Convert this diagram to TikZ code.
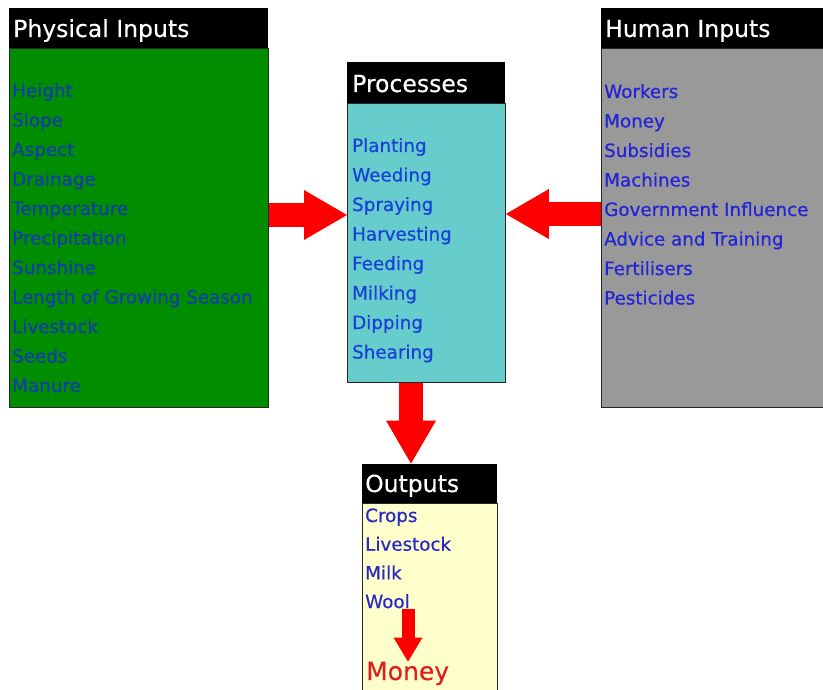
\documentclass[tikz,border=0pt]{standalone}
\usepackage{fontspec}
\setmainfont{DejaVu Sans}
\newfontfamily\itemfont{DejaVu Sans}[FakeBold=0.6]
\newfontfamily\headfont{DejaVu Sans}[FakeBold=0.3]
\usetikzlibrary{arrows.meta}
\definecolor{pgreen}{RGB}{0,142,0}
\definecolor{pcyan}{RGB}{102,204,204}
\definecolor{pgray}{RGB}{153,153,153}
\definecolor{pyellow}{RGB}{255,255,204}
\definecolor{tgreen}{RGB}{20,60,170}
\definecolor{tcyan}{RGB}{25,65,215}
\definecolor{tgray}{RGB}{35,35,215}
\definecolor{tyel}{RGB}{40,40,200}
\definecolor{pred}{RGB}{255,0,0}
\definecolor{mred}{RGB}{225,30,30}
\begin{document}
\begin{tikzpicture}[x=1pt,y=-1pt,
  body/.style={draw=black!85, line width=0.9pt, anchor=north west, inner sep=0pt},
  headbox/.style={fill=black, anchor=south west, inner sep=0pt},
  title/.style={anchor=base west, inner sep=0pt, text=white, font=\headfont\fontsize{23.5}{28}\selectfont},
  item/.style={anchor=base west, inner sep=0pt, font=\itemfont\fontsize{18.3}{20}\selectfont},
  bigarrow/.style={pred, line width=24pt, -{Triangle[width=50pt,length=43pt,line width=0pt]}},
  smallarrow/.style={pred, line width=13pt, -{Triangle[width=29pt,length=24pt,line width=0pt]}}]
\useasboundingbox (0,0) rectangle (823,690);
% Physical Inputs
\node[body, fill=pgreen, minimum width=259pt, minimum height=359pt] (phys) at (9,48) {};
\node[headbox, minimum width=259pt, minimum height=40pt] (physh) at (phys.north west) {};
\node[title] (physt) at (13,37) {Physical Inputs};
\foreach \t [count=\i] in {Height,Slope,Aspect,Drainage,Temperature,Precipitation,Sunshine,Length of Growing Season,Livestock,Seeds,Manure}
  \node[item, text=tgreen] (p\i) at (12,{97+29.5*(\i-1)}) {\t};
% Processes
\node[body, fill=pcyan, minimum width=158pt, minimum height=279pt] (proc) at (347,103) {};
\node[headbox, minimum width=158pt, minimum height=41pt] (proch) at (proc.north west) {};
\node[title] (proct) at (352,92) {Processes};
\foreach \t [count=\i] in {Planting,Weeding,Spraying,Harvesting,Feeding,Milking,Dipping,Shearing}
  \node[item, text=tcyan] (c\i) at (352,{152+29.5*(\i-1)}) {\t};
% Human Inputs
\node[body, fill=pgray, minimum width=230pt, minimum height=359pt] (hum) at (601,48) {};
\node[headbox, minimum width=230pt, minimum height=40pt] (humh) at (hum.north west) {};
\node[title] (humt) at (605,37) {Human Inputs};
\foreach \t [count=\i] in {Workers,Money,Subsidies,Machines,Government Influence,Advice and Training,Fertilisers,Pesticides}
  \node[item, text=tgray] (h\i) at (604,{98+29.5*(\i-1)}) {\t};
% Outputs
\node[body, fill=pyellow, minimum width=135pt, minimum height=200pt] (out) at (362,503) {};
\node[headbox, minimum width=135pt, minimum height=39pt] (outh) at (out.north west) {};
\node[title] (outt) at (365,492) {Outputs};
\foreach \t [count=\i] in {Crops,Livestock,Milk,Wool}
  \node[item, text=tyel] (o\i) at (365,{522+28.7*(\i-1)}) {\t};
\node[anchor=base west, inner sep=0pt, text=mred, font=\headfont\fontsize{25}{28}\selectfont] (money) at (366,680) {Money};
% Arrows
\draw[bigarrow] (phys.east |- 0,215) -- (proc.west |- 0,215);
\draw[bigarrow] (hum.west |- 0,214) -- (proc.east |- 0,214);
\draw[bigarrow] (proc.south -| 411,0) -- (outh.north -| 411,0);
\draw[smallarrow] (o4.south -| 408,0) -- (money.north -| 408,0);
\end{tikzpicture}
\end{document}
